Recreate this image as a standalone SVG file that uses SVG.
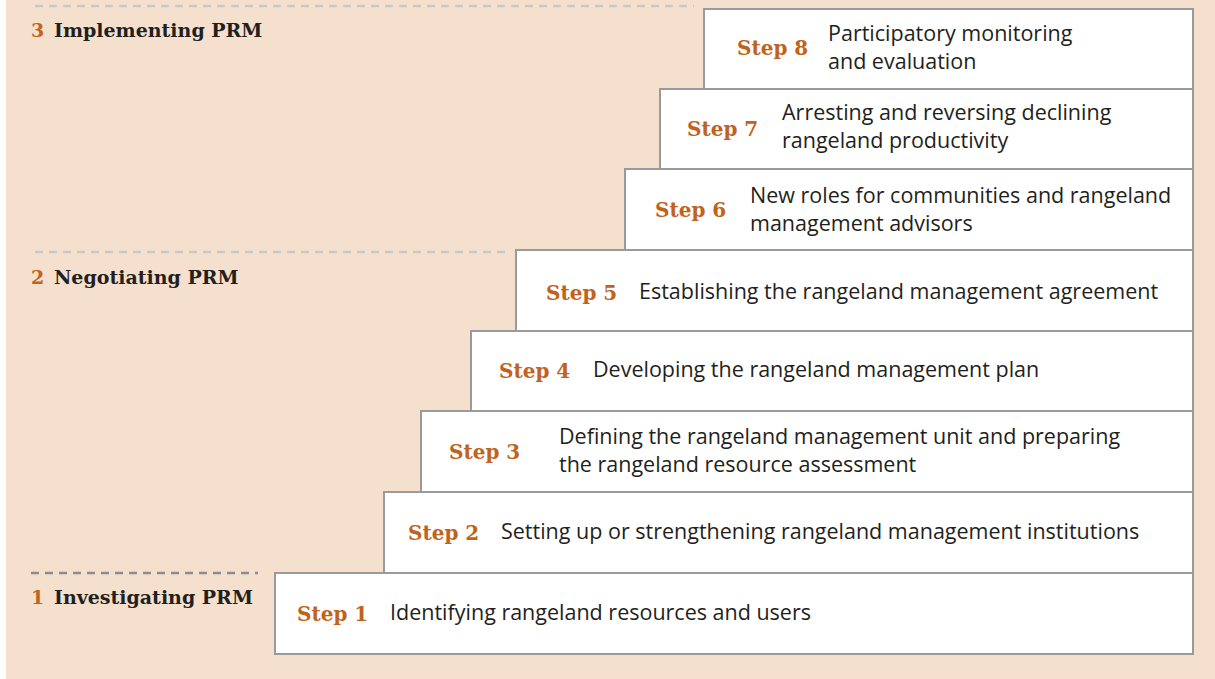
<svg xmlns="http://www.w3.org/2000/svg" width="1215" height="679" viewBox="0 0 1215 679">
  <style>
    .bg { fill: #F5E0CE; }
    .box { fill: #FFFFFF; stroke: #9A9A9C; stroke-width: 2; }
    .step { font-family: "DejaVu Serif", "Liberation Serif", serif; font-weight: bold; font-size: 20px; fill: #C0631E; }
    .desc { font-family: "Open Sans", "Noto Sans", "Liberation Sans", sans-serif; font-size: 21.5px; fill: #231F20; }
    .phase { font-family: "DejaVu Serif", "Liberation Serif", serif; font-weight: bold; font-size: 19px; fill: #231F20; }
    .phase .num { fill: #C0631E; }
    .dash-light { stroke: #C9C9CB; stroke-width: 2.5; stroke-dasharray: 8 6; fill: none; }
    .dash-dark { stroke: #8C8C8E; stroke-width: 2.5; stroke-dasharray: 8 6; fill: none; }
  </style>

  <rect x="0" y="0" width="1215" height="679" fill="#FFFFFF"/>
  <rect class="bg" x="6" y="0" width="1209" height="679"/>

  <!-- phase divider lines -->
  <g id="dividers">
    <line class="dash-light" x1="35" y1="6" x2="694" y2="6"/>
    <line class="dash-light" x1="35" y1="252" x2="505" y2="252"/>
    <line class="dash-dark" x1="31" y1="573" x2="258" y2="573"/>
  </g>

  <!-- phase labels -->
  <g id="phase-3">
    <text class="phase" x="31" y="37"><tspan class="num">3</tspan><tspan x="54">Implementing PRM</tspan></text>
  </g>
  <g id="phase-2">
    <text class="phase" x="31" y="284"><tspan class="num">2</tspan><tspan x="54">Negotiating PRM</tspan></text>
  </g>
  <g id="phase-1">
    <text class="phase" x="31" y="604"><tspan class="num">1</tspan><tspan x="54">Investigating PRM</tspan></text>
  </g>

  <!-- staircase of steps, bottom to top -->
  <g id="step-1">
    <rect class="box" x="275" y="573" width="918" height="81"/>
    <text class="step" x="297" y="621">Step 1</text>
    <text class="desc" x="390" y="620">Identifying rangeland resources and users</text>
  </g>
  <g id="step-2">
    <rect class="box" x="384" y="492" width="809" height="81"/>
    <text class="step" x="408" y="540">Step 2</text>
    <text class="desc" x="501" y="539">Setting up or strengthening rangeland management institutions</text>
  </g>
  <g id="step-3">
    <rect class="box" x="421" y="411" width="772" height="81"/>
    <text class="step" x="449" y="459">Step 3</text>
    <text class="desc" x="559" y="444">Defining the rangeland management unit and preparing</text>
    <text class="desc" x="559" y="472">the rangeland resource assessment</text>
  </g>
  <g id="step-4">
    <rect class="box" x="471" y="331" width="722" height="80"/>
    <text class="step" x="499" y="378">Step 4</text>
    <text class="desc" x="593" y="377">Developing the rangeland management plan</text>
  </g>
  <g id="step-5">
    <rect class="box" x="516" y="250" width="677" height="81"/>
    <text class="step" x="546" y="300">Step 5</text>
    <text class="desc" x="639" y="299">Establishing the rangeland management agreement</text>
  </g>
  <g id="step-6">
    <rect class="box" x="625" y="169" width="568" height="81"/>
    <text class="step" x="655" y="217">Step 6</text>
    <text class="desc" x="750" y="203">New roles for communities and rangeland</text>
    <text class="desc" x="750" y="231">management advisors</text>
  </g>
  <g id="step-7">
    <rect class="box" x="660" y="89" width="533" height="80"/>
    <text class="step" x="687" y="136">Step 7</text>
    <text class="desc" x="782" y="120">Arresting and reversing declining</text>
    <text class="desc" x="782" y="148">rangeland productivity</text>
  </g>
  <g id="step-8">
    <rect class="box" x="704" y="9" width="489" height="80"/>
    <text class="step" x="737" y="55">Step 8</text>
    <text class="desc" x="828" y="41">Participatory monitoring</text>
    <text class="desc" x="828" y="69">and evaluation</text>
  </g>
</svg>
